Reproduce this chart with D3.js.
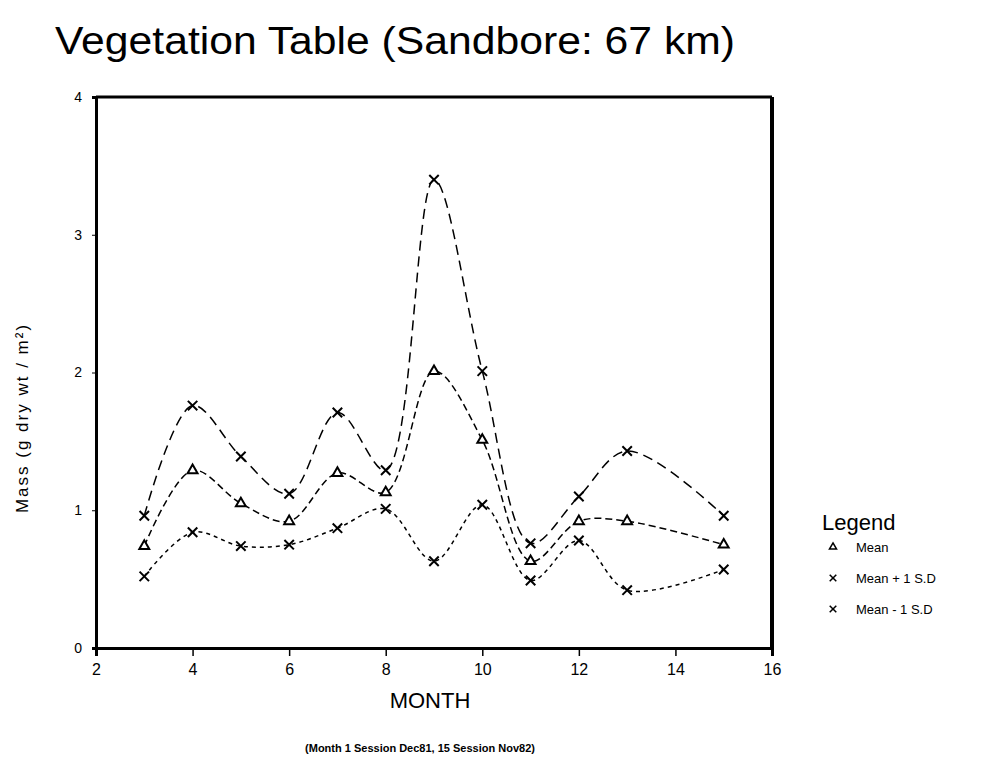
<!DOCTYPE html>
<html>
<head>
<meta charset="utf-8">
<script src="https://cdn.jsdelivr.net/npm/d3@7"></script>
<style>
  body { margin: 0; background: #fff; }
  text { font-family: "Liberation Sans", sans-serif; fill: #000; }
</style>
</head>
<body>
<div id="chart"></div>
<script>
// 数据
const months = [3, 4, 5, 6, 7, 8, 9, 10, 11, 12, 13, 15]
const meanValues = [0.74, 1.29, 1.05, 0.92, 1.27, 1.13, 2.01, 1.51, 0.63, 0.92, 0.92, 0.75]
const upperValues = [0.96, 1.76, 1.39, 1.12, 1.71, 1.29, 3.40, 2.01, 0.76, 1.10, 1.43, 0.96]
const lowerValues = [0.52, 0.84, 0.74, 0.75, 0.87, 1.01, 0.63, 1.04, 0.49, 0.78, 0.42, 0.57]
const xTicks = [2, 4, 6, 8, 10, 12, 14, 16]
const yTicks = [0, 1, 2, 3, 4]
const legendLabels = ["Mean", "Mean + 1 S.D", "Mean - 1 S.D"]

const width = 998
const height = 769
const margin = {left: 96, right: 226, top: 97, bottom: 121}

const svg = d3.select("#chart").append("svg")
  .attr("width", width).attr("height", height)

const x = d3.scaleLinear().domain([2, 16]).range([margin.left, width - margin.right])
const y = d3.scaleLinear().domain([0, 4]).range([height - margin.bottom, margin.top])

// 标题（细体）
svg.append("text")
  .attr("x", 395).attr("y", 54)
  .attr("text-anchor", "middle")
  .attr("font-size", 38)
  .attr("font-weight", 100)
  .attr("font-family", "Roboto, sans-serif")
  .attr("textLength", 680)
  .attr("lengthAdjust", "spacingAndGlyphs")
  .text("Vegetation Table (Sandbore: 67 km)")

// 坐标轴
const xAxis = d3.axisBottom(x).tickValues(xTicks).tickSize(8).tickPadding(8)
svg.append("g")
  .attr("transform", `translate(0,${y(0)})`)
  .call(xAxis)
  .call(g => g.select(".domain").attr("stroke-width", 3))
  .call(g => g.selectAll(".tick line").attr("stroke-width", 1.5))
  .call(g => g.selectAll(".tick text").attr("font-size", 16).attr("font-family", "Liberation Sans, sans-serif"))

const yAxis = d3.axisLeft(y).tickValues(yTicks).tickFormat(d3.format("d")).tickSize(4).tickPadding(10)
svg.append("g")
  .attr("transform", `translate(${x(2)},0)`)
  .call(yAxis)
  .call(g => g.select(".domain").attr("stroke-width", 3))
  .call(g => g.selectAll(".tick text").attr("font-size", 14).attr("font-family", "Liberation Sans, sans-serif"))

// 上边和右边框
svg.append("line")
  .attr("x1", x(2)).attr("x2", x(16)).attr("y1", y(4)).attr("y2", y(4))
  .attr("stroke", "#000").attr("stroke-width", 3)
svg.append("line")
  .attr("x1", x(16)).attr("x2", x(16)).attr("y1", y(4)).attr("y2", y(0))
  .attr("stroke", "#000").attr("stroke-width", 4)

// 轴标题
svg.append("text")
  .attr("x", 430).attr("y", 708)
  .attr("text-anchor", "middle")
  .attr("font-size", 22)
  .text("MONTH")

svg.append("text")
  .attr("transform", `translate(28,418) rotate(-90)`)
  .attr("text-anchor", "middle")
  .attr("font-size", 17)
  .attr("letter-spacing", 2)
  .text("Mass (g dry wt / m²)")

svg.append("text")
  .attr("x", 420).attr("y", 752)
  .attr("text-anchor", "middle")
  .attr("font-size", 11)
  .attr("font-weight", "bold")
  .text("(Month 1 Session Dec81, 15 Session Nov82)")

// 曲线
const series = [
  {values: meanValues, dash: "7,4", marker: "tri"},
  {values: upperValues, dash: "10,6", marker: "x"},
  {values: lowerValues, dash: "4,4", marker: "x"}
]

const line = d3.line()
  .x(d => x(d[0]))
  .y(d => y(d[1]))
  .curve(d3.curveCatmullRom.alpha(0.5))

const plot = svg.append("g")
series.forEach(s => {
  const pts = months.map((m, i) => [m, s.values[i]])
  plot.append("path")
    .attr("d", line(pts))
    .attr("fill", "none")
    .attr("stroke", "#000")
    .attr("stroke-width", 1.5)
    .attr("stroke-dasharray", s.dash)

  const sym = s.marker === "tri" ? d3.symbolTriangle2 : d3.symbolX
  plot.selectAll(null)
    .data(pts)
    .enter()
    .append("path")
    .attr("transform", d => `translate(${x(d[0])},${y(d[1])})`)
    .attr("d", d3.symbol(sym, s.marker === "tri" ? 70 : 60))
    .attr("fill", "#fff")
    .attr("stroke", "#000")
    .attr("stroke-width", 2)
})

// 图例
const legend = svg.append("g")
legend.append("text")
  .attr("x", 822).attr("y", 530)
  .attr("font-size", 22)
  .text("Legend")

legendLabels.forEach((label, i) => {
  const ly = 547 + i * 31
  const sym = i === 0 ? d3.symbolTriangle2 : d3.symbolX
  legend.append("path")
    .attr("transform", `translate(833,${ly})`)
    .attr("d", d3.symbol(sym, i === 0 ? 36 : 30))
    .attr("fill", "#fff")
    .attr("stroke", "#000")
    .attr("stroke-width", 1.5)
  legend.append("text")
    .attr("x", 856).attr("y", ly + 5)
    .attr("font-size", 13)
    .text(label)
})
</script>
</body>
</html>
